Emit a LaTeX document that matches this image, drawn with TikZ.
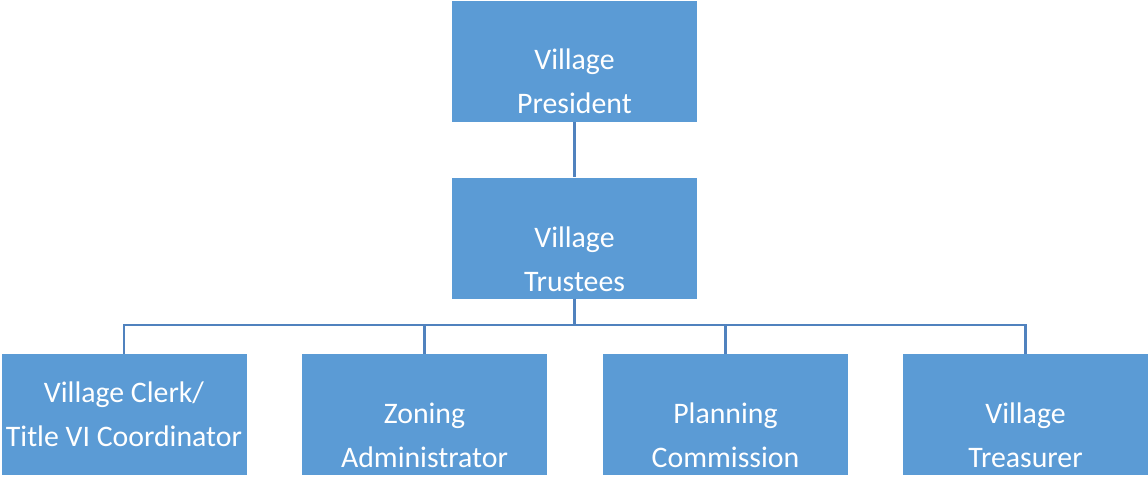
\documentclass[tikz,border=0pt]{standalone}
\usepackage{fontspec}
\setmainfont{Carlito}
\usepackage{tikz}
\definecolor{boxblue}{HTML}{5B9BD5}
\definecolor{lineblue}{RGB}{80,130,190}
\tikzset{
  orgbox/.style={fill=boxblue, draw=none, minimum width=245pt, minimum height=121pt, inner sep=0pt},
  orgtext/.style={text=white, align=center, font=\fontsize{29.8}{44}\selectfont},
  orgline/.style={draw=lineblue, line width=2.5pt}
}
\begin{document}
\begin{tikzpicture}[x=1pt,y=-1pt]
  \useasboundingbox (0,0) rectangle (1148,477);
  % boxes
  \node[orgbox] (pres) at (574.5,61.5) {};
  \node[orgbox] (trus) at (574.5,238) {};
  \node[orgbox] (clerk) at (124,414.5) {};
  \node[orgbox] (zone) at (424.5,414.5) {};
  \node[orgbox] (plan) at (725.5,414.5) {};
  \node[orgbox] (treas) at (1025.5,414.5) {};
  % texts
  \node[orgtext] (pres-t) at ([yshift=-20pt]pres.center) {Village\\President};
  \node[orgtext] (trus-t) at ([yshift=-21pt]trus.center) {Village\\Trustees};
  \node[orgtext] (clerk-t) at (clerk.center) {Village Clerk/\\Title VI Coordinator};
  \node[orgtext] (zone-t) at ([yshift=-21pt]zone.center) {Zoning\\Administrator};
  \node[orgtext] (plan-t) at ([yshift=-21pt]plan.center) {Planning\\Commission};
  \node[orgtext] (treas-t) at ([yshift=-21pt]treas.center) {Village\\Treasurer};
  % connectors
  \coordinate (bus) at (574.5,325);
  \draw[orgline] (pres.south) -- (trus.north);
  \foreach \c in {clerk,zone,plan,treas}
    \draw[orgline] (trus.south) -- (bus) -| (\c.north);
\end{tikzpicture}
\end{document}
